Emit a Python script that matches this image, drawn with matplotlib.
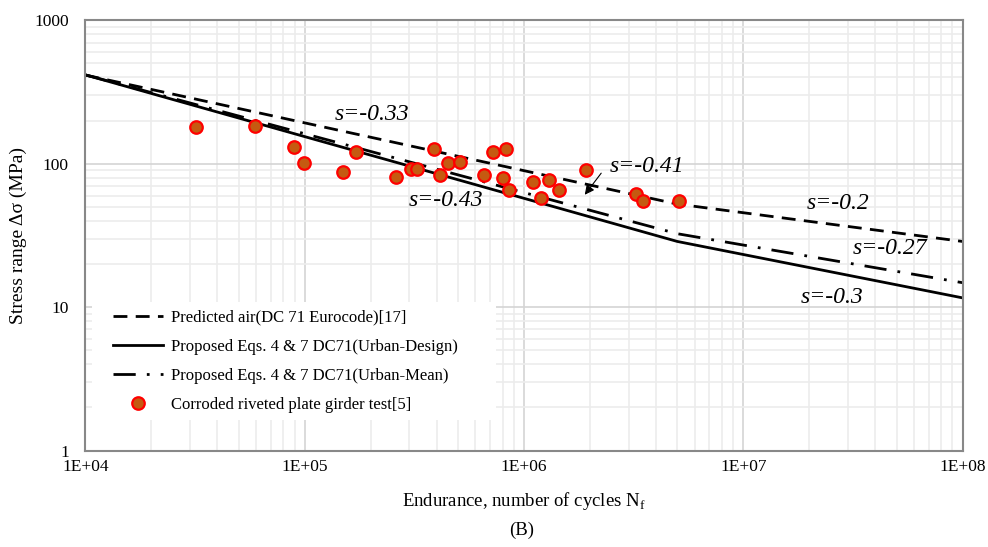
import matplotlib
matplotlib.use("Agg")
import matplotlib.pyplot as plt
from matplotlib.patches import Rectangle
from matplotlib.ticker import FixedLocator, NullFormatter, LogLocator

plt.rcParams['font.family'] = ['Liberation Serif', 'DejaVu Serif']
plt.rcParams['mathtext.fontset'] = 'custom'
plt.rcParams['mathtext.rm'] = 'Liberation Serif'

# curves (knots)
air_N = [1e4, 5e6, 1e8]
air_S = [415, 52.3, 28.7]
design_N = [1e4, 5e6, 1e8]
design_S = [416, 28.7, 11.6]
mean_N = [1e4, 5e6, 1e8]
mean_S = [416, 32.5, 14.8]

# test data: corroded riveted plate girder
test_N = [3.19e4, 5.93e4, 8.93e4, 9.93e4, 1.49e5, 1.71e5, 2.61e5, 3.05e5, 3.25e5,
          3.89e5, 4.14e5, 4.50e5, 5.11e5, 6.58e5, 7.23e5, 8.02e5, 8.28e5, 8.55e5,
          1.10e6, 1.20e6, 1.30e6, 1.45e6, 1.92e6, 3.24e6, 3.49e6, 5.09e6]
test_S = [180, 183, 131, 101, 87.5, 121, 80.7, 91.8, 91.8,
          127, 83.4, 101, 103, 83.4, 121, 79.4, 127, 65.6,
          74.5, 57.7, 77.0, 65.6, 90.4, 61.5, 55.0, 55.0]

x_ticks = [1e4, 1e5, 1e6, 1e7, 1e8]
x_labels = ['1E+04', '1E+05', '1E+06', '1E+07', '1E+08']
y_ticks = [1, 10, 100, 1000]
y_labels = ['1', '10', '100', '1000']

fig = plt.figure(figsize=(9.88, 5.47), dpi=100)
ax = fig.add_axes([0.0865, 0.1764, 0.8877, 0.7865])
ax.set_xscale('log')
ax.set_yscale('log')
ax.set_xlim(1e4, 1e8)
ax.set_ylim(1, 1000)

# grid
ax.xaxis.set_major_locator(FixedLocator(x_ticks))
ax.yaxis.set_major_locator(FixedLocator(y_ticks))
ax.xaxis.set_minor_locator(LogLocator(base=10, subs=range(2, 10)))
ax.yaxis.set_minor_locator(LogLocator(base=10, subs=range(2, 10)))
ax.xaxis.set_minor_formatter(NullFormatter())
ax.yaxis.set_minor_formatter(NullFormatter())
ax.set_xticklabels(x_labels)
ax.set_yticklabels(y_labels)
ax.grid(which='major', color='#d4d4d4', lw=1.2)
ax.grid(which='minor', color='#ececec', lw=1.2)
ax.set_axisbelow(True)
ax.tick_params(which='both', length=0, labelsize=12.5)
ax.tick_params(axis='x', pad=6)
ax.tick_params(axis='y', pad=12)
for sp in ax.spines.values():
    sp.set_color('#888888')
    sp.set_linewidth(1.5)

ax.plot(air_N, air_S, color='black', lw=2, dashes=(5, 3),
        label='Predicted air(DC 71 Eurocode)[17]')
ax.plot(design_N, design_S, color='black', lw=2,
        label='Proposed Eqs. 4 & 7 DC71(Urban-Design)')
ax.plot(mean_N, mean_S, color='black', lw=2, dashes=(8, 4, 1, 4),
        label='Proposed Eqs. 4 & 7 DC71(Urban-Mean)')
ax.plot(test_N, test_S, ls='none', marker='o', ms=9, mfc='#C55A11', mec='#FF0000',
        mew=1.6, label='Corroded riveted plate girder test[5]')

# slope annotations
kw = dict(fontsize=17, style='italic', ha='center', va='center')
ax.text(2.03e5, 219, 's=-0.33', **kw)
ax.text(4.39e5, 55, 's=-0.43', **kw)
ax.text(3.64e6, 95, 's=-0.41', **kw)
ax.text(2.70e7, 52.4, 's=-0.2', **kw)
ax.text(4.67e7, 25.8, 's=-0.27', **kw)
ax.text(2.54e7, 11.6, 's=-0.3', **kw)
ax.annotate('', xy=(1.86e6, 58.6), xytext=(2.29e6, 89),
            arrowprops=dict(arrowstyle='-|>', color='black', lw=0.8, mutation_scale=14))

# white box behind the legend
ax.add_patch(Rectangle((0.008, 0.07), 0.46, 0.275, transform=ax.transAxes,
                       facecolor='white', edgecolor='none', zorder=4))
leg = ax.legend(loc='lower left', bbox_to_anchor=(0.01, 0.045), fontsize=12,
                frameon=False, handlelength=3.0, handletextpad=0.5,
                labelspacing=0.78, borderpad=0.6)
leg.set_zorder(5)

ax.set_ylabel('Stress range Δσ (MPa)', fontsize=14, labelpad=5)
ax.set_xlabel('Endurance, number of cycles N$_\\mathregular{f}$', fontsize=13.5, labelpad=11)
fig.text(0.528, 0.022, '(B)', fontsize=13.5, ha='center')

fig.savefig('out.png', dpi=100)
